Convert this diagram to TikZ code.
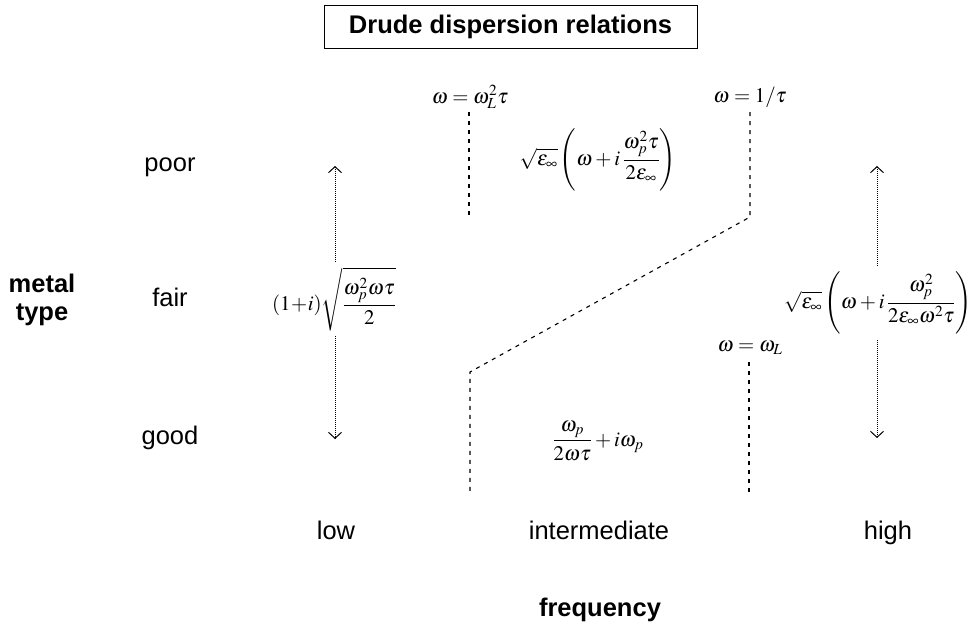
\documentclass[tikz,border=0pt]{standalone}
\usepackage{mathptmx}
\usepackage[no-math]{fontspec}
\setmainfont{Liberation Sans}
\usetikzlibrary{arrows.meta}
\begin{document}
\begin{tikzpicture}[x=1pt,y=-1pt,
  txt/.style={font=\fontsize{25.5}{28}\selectfont, inner sep=0pt},
  btxt/.style={font=\fontsize{25.5}{28}\selectfont\bfseries, inner sep=0pt},
  mth/.style={font=\fontsize{20.8}{25}\selectfont, inner sep=0pt},
  bound/.style={line width=1.1pt, dash pattern=on 4pt off 5pt},
  rangearr/.style={line width=0.7pt, dash pattern=on 1pt off 1pt, -{Straight Barb[length=6pt,width=13pt,line width=1pt]}},
]
\useasboundingbox (0,0) rectangle (975,629);
% title
\node[draw, line width=1pt, btxt, minimum width=373pt, minimum height=43pt] (title) at (510.5,26.5) {Drude dispersion relations};
% row labels
\node[txt, anchor=base] (poor) at (170,171) {poor};
\node[txt, anchor=base] (fair) at (170,306) {fair};
\node[txt, anchor=base] (good) at (170,444) {good};
\node[btxt, align=center] (mtype) at (42,300) {metal\\type};
% column labels
\node[txt, anchor=base] (low) at (336,539) {low};
\node[txt, anchor=base] (inter) at (599,539) {intermediate};
\node[txt, anchor=base] (high) at (888,539) {high};
\node[btxt, anchor=base] (freq) at (600,616) {frequency};
% boundary labels
\node[mth] (lA) at (470,97) {$\omega=\omega_L^2\tau$};
\node[mth] (lB) at (750,97) {$\omega=1/\tau$};
\node[mth] (lD) at (750,348) {$\omega=\omega_L$};
% formulas
\node[mth, inner sep=5pt] (lowf) at (334,299) {$\displaystyle(1\!+\!i)\sqrt{\frac{\omega_p^2\omega\tau}{2}}$};
\node[mth] (topf) at (598,160) {$\displaystyle\sqrt{\varepsilon_\infty}\left(\omega+i\,\frac{\omega_p^2\tau}{2\varepsilon_\infty}\right)$};
\node[mth] (botf) at (598,441) {$\displaystyle\frac{\omega_p}{2\omega\tau}+i\omega_p$};
\node[mth, inner sep=6pt] (rightf) at (878,303) {$\displaystyle\sqrt{\varepsilon_\infty}\left(\omega+i\,\frac{\omega_p^2}{2\varepsilon_\infty\omega^2\tau}\right)$};
% boundary lines
\coordinate (tA) at (469,112);
\coordinate (bA) at (469,217);
\coordinate (tB) at (750,112);
\coordinate (bB) at (750,217);
\coordinate (kC) at (470,372);
\coordinate (eC) at (470,495);
\coordinate (tD) at (749,362);
\coordinate (eD) at (749,495);
\draw[bound] (tA) -- (bA);
\draw[bound] (tB) -- (bB) -- (kC) -- (eC);
\draw[bound] (tD) -- (eD);
% range arrows
\coordinate (lowtop) at (335,166);
\coordinate (lowbot) at (335,439);
\coordinate (rtop) at (877,166);
\coordinate (rbot) at (877,438);
\draw[rangearr] (lowf.north -| lowtop) -- (lowtop);
\draw[rangearr] (lowf.south -| lowbot) -- (lowbot);
\draw[rangearr] (rightf.north -| rtop) -- (rtop);
\draw[rangearr] (rightf.south -| rbot) -- (rbot);
\end{tikzpicture}
\end{document}
